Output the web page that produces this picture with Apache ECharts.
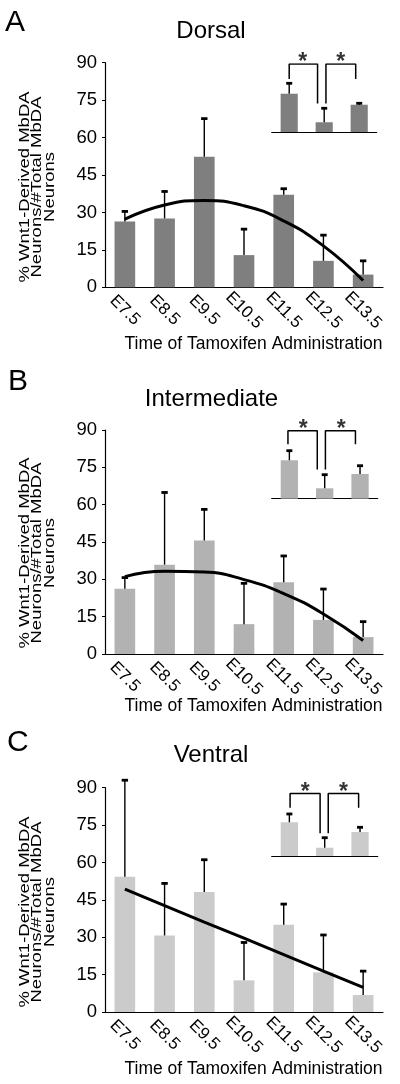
<!DOCTYPE html>
<html>
<head>
<meta charset="utf-8">
<script src="https://cdn.jsdelivr.net/npm/echarts@6/dist/echarts.min.js"></script>
<style>
html,body{margin:0;padding:0;background:#fff;}
#chart{width:400px;height:1084px;}
</style>
</head>
<body>
<div id="chart"></div>
<script>
// ---------- data ----------
const categories = ['E7.5','E8.5','E9.5','E10.5','E11.5','E12.5','E13.5'];
const yTickMin = 0, yTickMax = 90, yTickStep = 15;
const panelLetters = ['A','B','C'];
const panelTitles = ['Dorsal','Intermediate','Ventral'];
const yAxisTitle = '% Wnt1-Derived MbDA\nNeurons/#Total MbDA\nNeurons';
const xAxisTitle = 'Time of Tamoxifen Administration';

const dorsalMean  = [26.4, 27.6, 52.3, 12.9, 37.1, 10.6, 5.1];
const dorsalErr   = [4.0, 10.8, 15.3, 10.4, 2.4, 10.3, 5.5];
const dorsalTrend = [27.3, 33.0, 34.8, 32.7, 26.6, 16.6, 2.7];

const interMean  = [26.2, 35.9, 45.6, 12.0, 28.8, 13.7, 6.8];
const interErr   = [4.5, 29.0, 12.5, 16.4, 10.6, 12.4, 6.2];
const interTrend = [31.1, 33.2, 32.9, 29.9, 24.3, 16.1, 5.4];

const ventralMean  = [54.3, 30.7, 48.1, 12.7, 35.0, 15.9, 6.8];
const ventralErr   = [38.7, 20.9, 13.0, 15.2, 8.3, 15.0, 9.6];
const ventralTrend = [49.3, 42.7, 36.1, 29.6, 23.0, 16.4, 9.9];

// inset (3 groups, arbitrary units 0-100)
const insetCategories = ['g1','g2','g3'];
const dorsalInsetMean = [56.3, 14.3, 40.1];
const dorsalInsetErr  = [15.3, 20.6, 2.1];
const interInsetMean  = [56.5, 15.3, 36.3];
const interInsetErr   = [14.1, 20.0, 12.2];
const ventralInsetMean = [49.6, 12.2, 35.3];
const ventralInsetErr  = [12.2, 14.7, 6.9];
const significanceMark = '*';

// ---------- layout / style ----------
const FONT = '"Liberation Sans", Arial, Helvetica, sans-serif';
const panels = [
  { mean: dorsalMean, err: dorsalErr, trend: dorsalTrend, smooth: true,
    insetMean: dorsalInsetMean, insetErr: dorsalInsetErr, color: '#7f7f7f',
    grid: {left:105, top:62.7, width:278, height:224.6},
    inset: {left:271.7, top:64, width:105, height:68},
    bracketTop: 100, legHigh: 78, legLow: 42,
    br: [0.0, 0.81, 1.05, 1.9], star: [0.39, 1.47],
    letter: [5, 23], title: [211, 31.7], yName: [37.5, 187], xName: [253.5, 344] },
  { mean: interMean, err: interErr, trend: interTrend, smooth: true,
    insetMean: interInsetMean, insetErr: interInsetErr, color: '#b2b2b2',
    grid: {left:105, top:430, width:278, height:224},
    inset: {left:271.7, top:430.7, width:106, height:68},
    bracketTop: 100, legHigh: 80, legLow: 43,
    br: [-0.04, 0.79, 1.02, 1.87], star: [0.39, 1.47],
    letter: [8, 382], title: [211.5, 399], yName: [37.5, 553], xName: [253.5, 706] },
  { mean: ventralMean, err: ventralErr, trend: ventralTrend, smooth: false,
    insetMean: ventralInsetMean, insetErr: ventralInsetErr, color: '#cbcbcb',
    grid: {left:105, top:787.7, width:278, height:224.3},
    inset: {left:271.7, top:788, width:106, height:68},
    bracketTop: 92, legHigh: 71, legLow: 33.4,
    br: [0.02, 0.87, 1.1, 1.96], star: [0.45, 1.53],
    letter: [7, 742.5], title: [211, 755], yName: [37.5, 912], xName: [253.5, 1069] }
];

function errorBarSeries(xIdx, yIdx, mean, err, capHalf, lw, capLw, z) {
  return {
    type: 'custom', xAxisIndex: xIdx, yAxisIndex: yIdx, z: z,
    data: mean.map((m, i) => [i, m, err[i]]),
    renderItem: function (params, api) {
      const i = api.value(0), m = api.value(1), e = api.value(2);
      const p0 = api.coord([i, m]);
      const p1 = api.coord([i, m + e]);
      return {
        type: 'group',
        children: [
          { type: 'line', shape: {x1: p0[0], y1: p0[1], x2: p1[0], y2: p1[1]},
            style: {stroke: '#000', lineWidth: lw} },
          { type: 'line', shape: {x1: p1[0] - capHalf, y1: p1[1], x2: p1[0] + capHalf, y2: p1[1]},
            style: {stroke: '#000', lineWidth: capLw} }
        ]
      };
    }
  };
}

const grids = [], xAxes = [], yAxes = [], series = [], graphics = [];

panels.forEach((p, k) => {
  // main grid
  const gMain = grids.length;
  grids.push(Object.assign({containLabel: false}, p.grid));
  const xMain = xAxes.length;
  xAxes.push({
    type: 'category', gridIndex: gMain, data: categories,
    axisLine: {show: true, lineStyle: {color: '#000', width: 1.2}},
    axisTick: {show: false},
    axisLabel: {rotate: -45, align: 'center', verticalAlign: 'middle', margin: 23,
      fontSize: 17, color: '#000', fontFamily: FONT, interval: 0},
    splitLine: {show: false}
  });
  const yMain = yAxes.length;
  yAxes.push({
    type: 'value', gridIndex: gMain, min: yTickMin, max: yTickMax, interval: yTickStep,
    axisLine: {show: true, lineStyle: {color: '#000', width: 1.2}},
    axisTick: {show: true, inside: false, length: 3, lineStyle: {color: '#000'}},
    axisLabel: {fontSize: 18.5, color: '#000', fontFamily: FONT, margin: 8},
    splitLine: {show: false}
  });
  series.push({
    type: 'bar', xAxisIndex: xMain, yAxisIndex: yMain, data: p.mean,
    barWidth: '52%', itemStyle: {color: p.color}, z: 2, silent: true
  });
  series.push(errorBarSeries(xMain, yMain, p.mean, p.err, 3.2, 1.4, 2.8, 3));
  series.push({
    type: 'line', xAxisIndex: xMain, yAxisIndex: yMain, data: p.trend,
    smooth: p.smooth, symbol: 'none', lineStyle: {color: '#000', width: 3}, z: 4, silent: true
  });

  // inset grid
  const gIn = grids.length;
  grids.push(Object.assign({containLabel: false}, p.inset));
  const xIn = xAxes.length;
  xAxes.push({
    type: 'category', gridIndex: gIn, data: insetCategories,
    axisLine: {show: true, lineStyle: {color: '#000', width: 1.2}},
    axisTick: {show: false}, axisLabel: {show: false}, splitLine: {show: false}
  });
  const xInVal = xAxes.length;
  xAxes.push({
    type: 'value', gridIndex: gIn, min: -0.5, max: 2.5, show: false,
    splitLine: {show: false}
  });
  const yIn = yAxes.length;
  yAxes.push({
    type: 'value', gridIndex: gIn, min: 0, max: 100, show: false, splitLine: {show: false}
  });
  series.push({
    type: 'bar', xAxisIndex: xIn, yAxisIndex: yIn, data: p.insetMean,
    barWidth: '49%', itemStyle: {color: p.color}, z: 2, silent: true
  });
  series.push(errorBarSeries(xIn, yIn, p.insetMean, p.insetErr, 3, 1.4, 2.8, 3));
  // significance brackets
  const b = p.br;
  series.push({
    type: 'line', xAxisIndex: xInVal, yAxisIndex: yIn, symbol: 'none', silent: true,
    lineStyle: {color: '#000', width: 1.5}, z: 4,
    data: [[b[0], p.legHigh], [b[0], p.bracketTop], [b[1], p.bracketTop], [b[1], p.legLow]]
  });
  series.push({
    type: 'line', xAxisIndex: xInVal, yAxisIndex: yIn, symbol: 'none', silent: true,
    lineStyle: {color: '#000', width: 1.5}, z: 4,
    data: [[b[2], p.legLow], [b[2], p.bracketTop], [b[3], p.bracketTop], [b[3], p.legHigh]]
  });
  series.push({
    type: 'scatter', xAxisIndex: xInVal, yAxisIndex: yIn, symbolSize: 0, silent: true, z: 5,
    data: [[p.star[0], p.bracketTop], [p.star[1], p.bracketTop]],
    label: {show: true, position: 'inside', formatter: significanceMark,
      fontSize: 23, fontWeight: 'bold', color: '#000', fontFamily: FONT, offset: [0, -1]}
  });

  // texts
  graphics.push({type: 'text', x: p.letter[0], y: p.letter[1],
    style: {text: panelLetters[k], fontSize: 30, fontFamily: FONT, fill: '#000',
      align: 'left', verticalAlign: 'middle', textAlign: 'left', textVerticalAlign: 'middle'}});
  graphics.push({type: 'text', x: p.title[0], y: p.title[1],
    style: {text: panelTitles[k], fontSize: 24, fontFamily: FONT, fill: '#000',
      align: 'center', verticalAlign: 'middle', textAlign: 'center', textVerticalAlign: 'middle'}});
  graphics.push({type: 'text', x: p.yName[0], y: p.yName[1], rotation: Math.PI / 2, scaleY: 0.78,
    style: {text: yAxisTitle, fontSize: 18.5, lineHeight: 16, fontFamily: FONT, fill: '#000',
      align: 'center', verticalAlign: 'middle', textAlign: 'center', textVerticalAlign: 'middle'}});
  graphics.push({type: 'text', x: p.xName[0], y: p.xName[1],
    style: {text: xAxisTitle, fontSize: 17.5, fontFamily: FONT, fill: '#000',
      align: 'center', verticalAlign: 'middle', textAlign: 'center', textVerticalAlign: 'middle'}});
});

const chart = echarts.init(document.getElementById('chart'), null, {renderer: 'canvas'});
chart.setOption({
  animation: false,
  backgroundColor: '#fff',
  grid: grids, xAxis: xAxes, yAxis: yAxes, series: series, graphic: graphics
});
</script>
</body>
</html>
